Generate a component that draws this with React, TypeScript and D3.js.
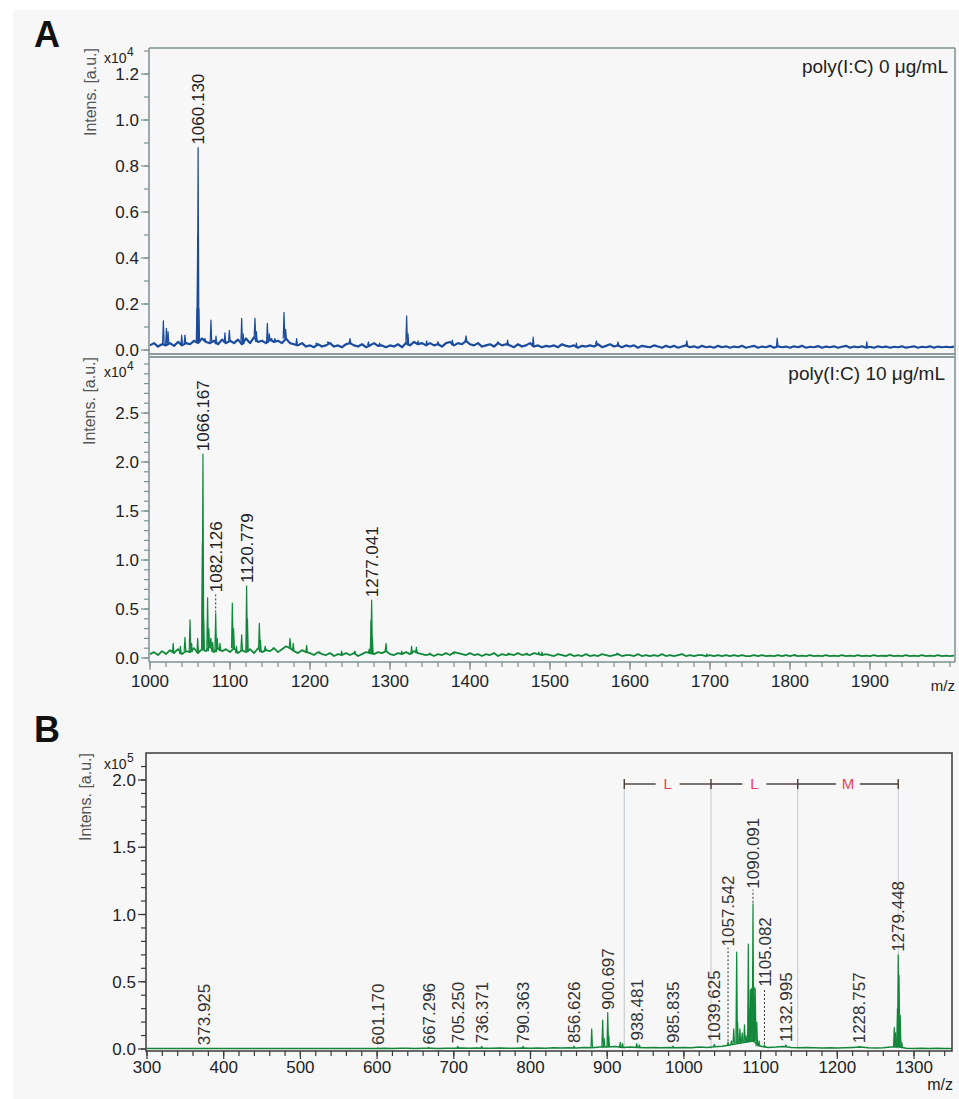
import React from "react";
import * as d3 from "d3";

const FONT = "Arial, 'Liberation Sans', Helvetica, sans-serif";

// A, top trace: poly(I:C) 0 ug/mL, intensity x10^4, baseline read every 5 m/z from 1000
const ctrlBaseline = [
  0.02, 0.03, 0.015, 0.025, 0.02, 0.03, 0.018, 0.035, 0.02, 0.03,
  0.025, 0.04, 0.03, 0.05, 0.035, 0.03, 0.04, 0.025, 0.045, 0.03,
  0.04, 0.03, 0.045, 0.025, 0.05, 0.03, 0.055, 0.035, 0.04, 0.03,
  0.045, 0.035, 0.04, 0.03, 0.05, 0.03, 0.025, 0.02, 0.03, 0.015,
  0.02, 0.012, 0.025, 0.015, 0.02, 0.03, 0.015, 0.02, 0.012, 0.025,
  0.03, 0.02, 0.015, 0.025, 0.012, 0.02, 0.03, 0.018, 0.02, 0.012,
  0.02, 0.015, 0.025, 0.012, 0.03, 0.02, 0.035, 0.025, 0.03, 0.02,
  0.03, 0.02, 0.025, 0.015, 0.03, 0.035, 0.02, 0.03, 0.025, 0.04,
  0.025, 0.02, 0.03, 0.015, 0.02, 0.025, 0.015, 0.03, 0.02, 0.025,
  0.02, 0.012, 0.025, 0.015, 0.02, 0.03, 0.015, 0.02, 0.012, 0.018,
  0.015, 0.02, 0.012, 0.025, 0.018, 0.015, 0.02, 0.01, 0.018, 0.015,
  0.02, 0.015, 0.025, 0.012, 0.018, 0.025, 0.015, 0.02, 0.012, 0.02,
  0.015, 0.02, 0.01, 0.018, 0.015, 0.012, 0.02, 0.015, 0.01, 0.018,
  0.012, 0.018, 0.01, 0.015, 0.02, 0.012, 0.016, 0.01, 0.018, 0.012,
  0.015, 0.01, 0.018, 0.012, 0.016, 0.01, 0.015, 0.012, 0.018, 0.01,
  0.014, 0.018, 0.01, 0.015, 0.012, 0.018, 0.01, 0.016, 0.012, 0.015,
  0.01, 0.016, 0.012, 0.018, 0.01, 0.014, 0.012, 0.017, 0.01, 0.015,
  0.012, 0.016, 0.01, 0.014, 0.018, 0.01, 0.015, 0.012, 0.016, 0.01,
  0.014, 0.01, 0.016, 0.012, 0.015, 0.01, 0.014, 0.012, 0.016, 0.01,
  0.013, 0.016, 0.01, 0.014, 0.012, 0.016, 0.01, 0.015, 0.012, 0.014,
  0.012, 0.015,
];
const ctrlPeaks: [number, number][] = [
  [1016.7, 0.127], [1020.5, 0.094], [1022.5, 0.08], [1039.6, 0.065], [1043.7, 0.065],
  [1058.8, 0.18], [1059.6, 0.5], [1060.13, 0.88], [1061.0, 0.18], [1068.7, 0.05],
  [1076.2, 0.13], [1082.5, 0.06], [1093.7, 0.075], [1099.2, 0.085], [1114.6, 0.138],
  [1116.5, 0.07], [1131.2, 0.138], [1133.0, 0.08], [1146.7, 0.116], [1149.0, 0.07],
  [1152.0, 0.05], [1156.0, 0.05], [1167.5, 0.164], [1169.5, 0.09], [1183.3, 0.05],
  [1208.0, 0.03], [1222.5, 0.035], [1250.0, 0.05], [1273.0, 0.035], [1287.0, 0.03],
  [1320.8, 0.148], [1322.5, 0.07], [1335.0, 0.04], [1345.8, 0.04], [1360.0, 0.036],
  [1378.0, 0.043], [1395.0, 0.061], [1435.0, 0.036], [1447.0, 0.043], [1479.0, 0.056],
  [1533.0, 0.03], [1558.0, 0.04], [1585.0, 0.035], [1671.0, 0.04], [1784.0, 0.052],
  [1896.0, 0.036],
];
const ctrlLabels: [number, string][] = [[1060.13, "1060.130"]];

// A, lower trace: poly(I:C) 10 ug/mL
const treatBaseline = [
  0.04, 0.06, 0.03, 0.07, 0.04, 0.08, 0.05, 0.09, 0.04, 0.07,
  0.06, 0.1, 0.05, 0.09, 0.07, 0.12, 0.06, 0.1, 0.07, 0.09,
  0.06, 0.1, 0.05, 0.08, 0.06, 0.09, 0.05, 0.1, 0.06, 0.08,
  0.07, 0.1, 0.06, 0.09, 0.12, 0.1, 0.07, 0.05, 0.08, 0.06,
  0.05, 0.03, 0.06, 0.04, 0.03, 0.05, 0.02, 0.04, 0.03, 0.05,
  0.03, 0.05, 0.02, 0.04, 0.06, 0.05, 0.04, 0.06, 0.05, 0.07,
  0.04, 0.03, 0.05, 0.04, 0.06, 0.04, 0.07, 0.05, 0.04, 0.03,
  0.04, 0.02, 0.04, 0.03, 0.05, 0.03, 0.06, 0.05, 0.04, 0.03,
  0.05, 0.03, 0.04, 0.02, 0.04, 0.03, 0.05, 0.02, 0.04, 0.03,
  0.04, 0.03, 0.05, 0.03, 0.04, 0.03, 0.05, 0.04, 0.03, 0.04,
  0.03, 0.02, 0.04, 0.03, 0.02, 0.04, 0.02, 0.03, 0.02, 0.04,
  0.02, 0.03, 0.02, 0.04, 0.03, 0.02, 0.03, 0.04, 0.02, 0.03,
  0.03, 0.02, 0.04, 0.02, 0.03, 0.02, 0.03, 0.02, 0.04, 0.02,
  0.03, 0.02, 0.03, 0.04, 0.02, 0.03, 0.02, 0.03, 0.03, 0.02,
  0.03, 0.02, 0.03, 0.02, 0.03, 0.02, 0.03, 0.02, 0.03, 0.02,
  0.02, 0.03, 0.02, 0.03, 0.02, 0.025, 0.02, 0.03, 0.02, 0.03,
  0.02, 0.03, 0.02, 0.025, 0.02, 0.03, 0.02, 0.025, 0.02, 0.03,
  0.02, 0.025, 0.02, 0.03, 0.02, 0.025, 0.02, 0.03, 0.02, 0.025,
  0.02, 0.03, 0.02, 0.025, 0.02, 0.03, 0.02, 0.025, 0.02, 0.03,
  0.02, 0.025, 0.02, 0.03, 0.02, 0.025, 0.02, 0.03, 0.02, 0.025,
  0.02, 0.025,
];
const treatPeaks: [number, number][] = [
  [1029.0, 0.15], [1038.0, 0.12], [1043.7, 0.21], [1050.0, 0.39], [1052.0, 0.15],
  [1059.6, 0.2], [1065.5, 1.18], [1066.167, 2.08], [1067.0, 0.4], [1072.0, 0.615],
  [1073.5, 0.3], [1076.0, 0.2], [1078.3, 0.16], [1082.126, 0.455], [1084.0, 0.2],
  [1087.5, 0.15], [1102.9, 0.56], [1104.5, 0.3], [1108.0, 0.12], [1114.6, 0.235],
  [1120.779, 0.735], [1121.8, 0.4], [1136.7, 0.354], [1138.0, 0.18], [1144.0, 0.12],
  [1154.0, 0.1], [1175.0, 0.2], [1179.0, 0.15], [1195.8, 0.13], [1212.0, 0.06],
  [1239.6, 0.07], [1256.0, 0.07], [1274.0, 0.09], [1276.3, 0.39], [1277.041, 0.59],
  [1278.0, 0.2], [1295.0, 0.15], [1314.6, 0.07], [1327.0, 0.12], [1333.0, 0.11],
  [1350.0, 0.05], [1380.0, 0.04], [1448.0, 0.05], [1471.0, 0.05], [1486.0, 0.06],
  [1490.0, 0.06], [1584.0, 0.05], [1696.0, 0.04], [1806.0, 0.035], [1919.0, 0.03],
];
const treatLabels: [number, string][] = [
  [1066.167, "1066.167"], [1082.126, "1082.126"], [1120.779, "1120.779"], [1277.041, "1277.041"],
];

// B: MS/MS spectrum, intensity x10^5, baseline read every 10 m/z from 300
const msmsBaseline = [
  0.003, 0.004, 0.003, 0.004, 0.003, 0.004, 0.003, 0.004, 0.003, 0.004,
  0.003, 0.004, 0.003, 0.004, 0.003, 0.004, 0.003, 0.004, 0.003, 0.004,
  0.003, 0.004, 0.003, 0.004, 0.003, 0.004, 0.003, 0.004, 0.003, 0.004,
  0.004, 0.005, 0.004, 0.006, 0.005, 0.004, 0.006, 0.005, 0.004, 0.006,
  0.006, 0.008, 0.005, 0.007, 0.006, 0.005, 0.007, 0.006, 0.005, 0.007,
  0.006, 0.008, 0.006, 0.009, 0.007, 0.01, 0.008, 0.012, 0.01, 0.014,
  0.015, 0.018, 0.012, 0.014, 0.012, 0.01, 0.012, 0.01, 0.012, 0.01,
  0.012, 0.01, 0.014, 0.012, 0.016, 0.02, 0.03, 0.04, 0.05, 0.06,
  0.02, 0.012, 0.014, 0.018, 0.012, 0.01, 0.012, 0.01, 0.008, 0.01,
  0.008, 0.01, 0.012, 0.014, 0.01, 0.008, 0.01, 0.015, 0.015, 0.006,
  0.004, 0.005, 0.004, 0.005, 0.004, 0.004,
];
const msmsPeaks: [number, number][] = [
  [373.925, 0.006], [601.17, 0.008], [667.296, 0.012], [705.25, 0.02], [736.371, 0.02],
  [790.363, 0.02], [856.626, 0.022], [879.8, 0.15], [894.1, 0.215], [896.0, 0.08],
  [900.697, 0.27], [902.0, 0.1], [917.0, 0.05], [920.0, 0.04], [938.481, 0.04],
  [942.0, 0.03], [985.835, 0.022], [1039.625, 0.035], [1057.542, 0.05], [1062.0, 0.06],
  [1065.0, 0.15], [1068.8, 0.72], [1070.0, 0.2], [1073.0, 0.15], [1076.0, 0.12],
  [1079.0, 0.18], [1081.0, 0.1], [1084.0, 0.78], [1085.0, 0.3], [1086.5, 0.44],
  [1088.0, 0.45], [1090.091, 1.08], [1091.5, 0.46], [1093.0, 0.45], [1095.0, 0.2],
  [1098.0, 0.06], [1105.082, 0.03], [1128.0, 0.02], [1132.995, 0.03], [1228.757, 0.02],
  [1274.3, 0.16], [1276.0, 0.12], [1278.4, 0.3], [1279.448, 0.7], [1280.5, 0.55],
  [1282.0, 0.25], [1284.0, 0.05],
];
const msmsLabels: [number, string][] = [
  [373.925, "373.925"], [601.17, "601.170"], [667.296, "667.296"], [705.25, "705.250"],
  [736.371, "736.371"], [790.363, "790.363"], [856.626, "856.626"], [900.697, "900.697"],
  [938.481, "938.481"], [985.835, "985.835"], [1039.625, "1039.625"], [1057.542, "1057.542"],
  [1090.091, "1090.091"], [1105.082, "1105.082"], [1132.995, "1132.995"],
  [1228.757, "1228.757"], [1279.448, "1279.448"],
];
// labels drawn above their peak, with a dotted leader (intensity where the label starts)
const liftedLabels: Record<string, number> = {
  "1082.126": 0.64, "1057.542": 0.74, "1090.091": 1.17, "1105.082": 0.44,
};

const ladderMz = [922.25, 1035.33, 1148.41, 1279.45];
const ladderResidues = ["L", "L", "M"];

const ctrlYTicks = [0, 0.2, 0.4, 0.6, 0.8, 1.0, 1.2];
const treatYTicks = [0, 0.5, 1.0, 1.5, 2.0, 2.5];
const aXTicks = [1000, 1100, 1200, 1300, 1400, 1500, 1600, 1700, 1800, 1900];
const msmsYTicks = [0, 0.5, 1.0, 1.5, 2.0];
const bXTicks = [300, 400, 500, 600, 700, 800, 900, 1000, 1100, 1200, 1300];

type Scale = d3.ScaleLinear<number, number>;

const line = d3.line<[number, number]>();

function peakHeight(peaks: [number, number][], mz: number) {
  const near = peaks.filter((p) => Math.abs(p[0] - mz) < 1.2);
  return near.length ? d3.max(near, (p) => p[1])! : 0;
}

function Trace(props: {
  x: Scale; y: Scale; base: number[]; start: number; step: number;
  peaks: [number, number][]; color: string; width: number; clip: string;
}) {
  const { x, y, base, start, step, peaks, color, width, clip } = props;
  const basePath = line(base.map((v, i) => [x(start + i * step), y(v)]));
  return (
    <g clipPath={`url(#${clip})`} fill="none" stroke={color} strokeLinejoin="round">
      <path d={basePath!} strokeWidth={width} />
      {peaks.map(([mz, h], i) => {
        const bv = base[Math.round((mz - start) / step)] ?? 0;
        const d = line([[x(mz - 1), y(bv)], [x(mz), y(h)], [x(mz + 1), y(bv)]]);
        return <path key={i} d={d!} strokeWidth={1.2} />;
      })}
    </g>
  );
}

function PeakLabels(props: {
  x: Scale; y: Scale; labels: [number, string][]; peaks: [number, number][]; color: string;
}) {
  const { x, y, labels, peaks, color } = props;
  return (
    <g fontFamily={FONT} fontSize={17} fill={color}>
      {labels.map(([mz, txt]) => {
        const h = peakHeight(peaks, mz);
        const lift = liftedLabels[txt];
        const y0 = y(lift ?? h) - 3;
        return (
          <g key={txt}>
            {lift !== undefined && (
              <line x1={x(mz)} x2={x(mz)} y1={y(h) - 1} y2={y0 + 1}
                stroke="#333" strokeWidth={1} strokeDasharray="2,2" />
            )}
            <text transform={`translate(${x(mz)},${y0}) rotate(-90)`} dy="0.36em">{txt}</text>
          </g>
        );
      })}
    </g>
  );
}

function YAxis(props: {
  y: Scale; left: number; ticks: number[]; minorMax: number; color: string;
}) {
  const { y, left, ticks, minorMax, color } = props;
  const minor = d3.range(0, Math.round(minorMax * 10) + 1).map((i) => i / 10);
  return (
    <g>
      {minor.map((v) => (
        <line key={`m${v}`} x1={left - 5} x2={left} y1={y(v)} y2={y(v)} stroke={color} strokeWidth={1.2} />
      ))}
      {ticks.map((v) => (
        <g key={v}>
          <line x1={left - 8} x2={left} y1={y(v)} y2={y(v)} stroke={color} strokeWidth={1.2} />
          <text x={left - 10} y={y(v)} dy="0.36em" textAnchor="end" fontFamily={FONT}
            fontSize={17} fill="#222">{d3.format(".1f")(v)}</text>
        </g>
      ))}
    </g>
  );
}

function XAxis(props: {
  x: Scale; base: number; ticks: number[]; minorFrom: number; minorTo: number;
  color: string; labelY: number;
}) {
  const { x, base, ticks, minorFrom, minorTo, color, labelY } = props;
  const minor = d3.range(minorFrom, minorTo + 1, 20);
  return (
    <g>
      {minor.map((v) => (
        <line key={`m${v}`} x1={x(v)} x2={x(v)} y1={base} y2={base + 5} stroke={color} strokeWidth={1.2} />
      ))}
      {ticks.map((v) => (
        <g key={v}>
          <line x1={x(v)} x2={x(v)} y1={base} y2={base + 8} stroke={color} strokeWidth={1.2} />
          <text x={x(v)} y={labelY} textAnchor="middle" fontFamily={FONT} fontSize={17} fill="#222">{v}</text>
        </g>
      ))}
    </g>
  );
}

function YTitle(props: { x: number; top: number; power: string; powY: number }) {
  const { x, top, power, powY } = props;
  return (
    <g fontFamily={FONT}>
      <text transform={`translate(${x},${top}) rotate(-90)`} textAnchor="end" dy="0.36em"
        fontSize={16} fill="#555">Intens. [a.u.]</text>
      <text x={104} y={powY} fontSize={14} fill="#222">x10</text>
      <text x={127} y={powY - 7} fontSize={12} fill="#222">{power}</text>
    </g>
  );
}

export default function App() {
  // panel A geometry
  const aL = 149, aR = 955;
  const a1Top = 48, a1Bot = 354, a2Top = 357, a2Bot = 662;
  const xA = d3.scaleLinear().domain([1000, 2000]).range([150, 950]);
  const yA1 = d3.scaleLinear().domain([0, 1.2]).range([350, 74]);
  const yA2 = d3.scaleLinear().domain([0, 2.5]).range([658, 413]);
  // panel B geometry
  const bL = 146, bR = 952, bTop = 753, bBot = 1051;
  const xB = d3.scaleLinear().domain([300, 1300]).range([147, 914]);
  const yB = d3.scaleLinear().domain([0, 2.0]).range([1049, 780]);

  const frameA = "#7d9090";
  const frameB = "#3a3a3a";
  const ladderY = 784;

  return (
    <svg width={959} height={1099} style={{ position: "absolute", left: 0, top: 0 }}>
      <defs>
        <clipPath id="clipA1"><rect x={aL} y={a1Top} width={aR - aL} height={a1Bot - a1Top} /></clipPath>
        <clipPath id="clipA2"><rect x={aL} y={a2Top} width={aR - aL} height={a2Bot - a2Top} /></clipPath>
        <clipPath id="clipB"><rect x={bL} y={bTop} width={bR - bL} height={bBot - bTop} /></clipPath>
      </defs>
      <rect x={0} y={0} width={959} height={1099} fill="#fff" />
      <rect x={13} y={10} width={946} height={1089} fill="#f7f7f7" />

      <text x={34} y={47} fontFamily={FONT} fontWeight="bold" fontSize={36} fill="#111">A</text>
      <text x={34} y={742} fontFamily={FONT} fontWeight="bold" fontSize={36} fill="#111">B</text>

      {/* Panel A, top */}
      <Trace x={xA} y={yA1} base={ctrlBaseline} start={1000} step={5} peaks={ctrlPeaks}
        color="#1a4c9e" width={2.2} clip="clipA1" />
      <PeakLabels x={xA} y={yA1} labels={ctrlLabels} peaks={ctrlPeaks} color="#222" />
      <YAxis y={yA1} left={aL} ticks={ctrlYTicks} minorMax={1.3} color={frameA} />
      <YTitle x={90} top={48} power="4" powY={63} />
      <text x={948} y={73} textAnchor="end" fontFamily={FONT} fontSize={19} fill="#222">poly(I:C) 0 μg/mL</text>

      {/* Panel A, bottom */}
      <Trace x={xA} y={yA2} base={treatBaseline} start={1000} step={5} peaks={treatPeaks}
        color="#10883a" width={1.8} clip="clipA2" />
      <PeakLabels x={xA} y={yA2} labels={treatLabels} peaks={treatPeaks} color="#222" />
      <YAxis y={yA2} left={aL} ticks={treatYTicks} minorMax={3.0} color={frameA} />
      <YTitle x={89} top={357} power="4" powY={377} />
      <text x={945} y={380} textAnchor="end" fontFamily={FONT} fontSize={19} fill="#222">poly(I:C) 10 μg/mL</text>
      <XAxis x={xA} base={a2Bot} ticks={aXTicks} minorFrom={1000} minorTo={2000} color={frameA} labelY={687} />
      <text x={955} y={691} textAnchor="end" fontFamily={FONT} fontSize={15} fill="#222">m/z</text>

      {/* Panel A frame */}
      <g fill="none" stroke={frameA} strokeWidth={1.5}>
        <line x1={aL} x2={aR} y1={a1Top} y2={a1Top} />
        <line x1={aR} x2={aR} y1={a1Top} y2={a2Bot} />
        <line x1={aL} x2={aL} y1={a1Top} y2={a2Bot} />
        <line x1={aL} x2={aR} y1={a2Bot} y2={a2Bot} />
        <line x1={aL} x2={aR} y1={a1Bot} y2={a1Bot} stroke="#8f9a9a" strokeWidth={2} />
        <line x1={aL} x2={aR} y1={a2Top} y2={a2Top} stroke="#8f9a9a" strokeWidth={2} />
      </g>

      {/* Panel B */}
      <g stroke="#c4c8cc" strokeWidth={1}>
        {ladderMz.map((mz) => (
          <line key={mz} x1={xB(mz)} x2={xB(mz)} y1={ladderY} y2={yB(0)} />
        ))}
      </g>
      <Trace x={xB} y={yB} base={msmsBaseline} start={300} step={10} peaks={msmsPeaks}
        color="#12873a" width={1.5} clip="clipB" />
      <PeakLabels x={xB} y={yB} labels={msmsLabels} peaks={msmsPeaks} color="#333" />
      <g stroke="#4a3c36" strokeWidth={1.4}>
        {ladderMz.map((mz) => (
          <line key={mz} x1={xB(mz)} x2={xB(mz)} y1={ladderY - 5} y2={ladderY + 5} />
        ))}
        {ladderResidues.map((r, i) => {
          const x0 = xB(ladderMz[i]), x1 = xB(ladderMz[i + 1]), mid = (x0 + x1) / 2;
          return (
            <g key={i}>
              <line x1={x0} x2={mid - 12} y1={ladderY} y2={ladderY} />
              <line x1={mid + 12} x2={x1} y1={ladderY} y2={ladderY} />
              <text x={mid} y={ladderY} dy="0.36em" textAnchor="middle" stroke="none"
                fill="#ec3f5a" fontFamily={FONT} fontSize={15}>{r}</text>
            </g>
          );
        })}
      </g>
      <YAxis y={yB} left={bL} ticks={msmsYTicks} minorMax={2.1} color={frameB} />
      <YTitle x={85} top={753} power="5" powY={769} />
      <XAxis x={xB} base={bBot} ticks={bXTicks} minorFrom={300} minorTo={1340} color={frameB} labelY={1073} />
      <text x={953} y={1090} textAnchor="end" fontFamily={FONT} fontSize={16} fill="#222">m/z</text>
      <rect x={bL} y={bTop} width={bR - bL} height={bBot - bTop} fill="none" stroke={frameB} strokeWidth={1.5} />
    </svg>
  );
}
